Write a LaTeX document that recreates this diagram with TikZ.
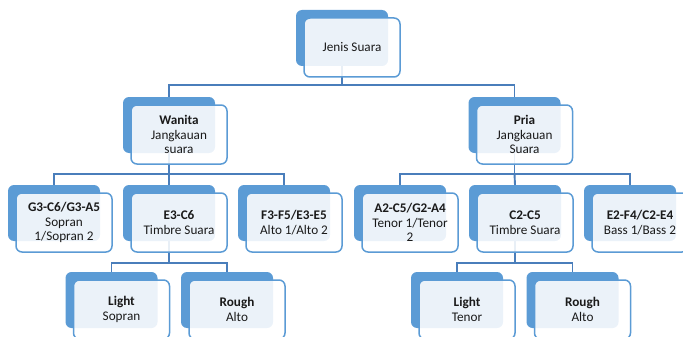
\documentclass[tikz,border=0pt]{standalone}
\usepackage{fontspec}
\setmainfont{Carlito}
\usetikzlibrary{backgrounds}
\definecolor{backblue}{HTML}{5B9BD5}
\definecolor{connblue}{HTML}{4A7EBB}
\definecolor{txt}{HTML}{1A1A1A}
\tikzset{
  backbox/.style={fill=backblue, draw=none, rounded corners=6pt, minimum width=92pt, minimum height=56pt, inner sep=0pt},
  frontbox/.style={fill=white, fill opacity=0.88, text opacity=1, draw=backblue, line width=1.5pt, rounded corners=6pt, minimum width=96pt, minimum height=59pt, inner sep=1pt, align=center, text=txt, font=\fontsize{13.2}{14.5}\selectfont},
  conn/.style={draw=connblue, line width=1.9pt}
}
\newcommand{\unitbox}[4]{%
  \node[backbox] (#1) at (#2,#3) {};
  \node[frontbox] (#1-f) at ([xshift=10pt,yshift=-9.5pt]#1.center) {#4};
}
\begin{document}
\begin{tikzpicture}[x=1pt,y=-1pt]
\useasboundingbox (0,0) rectangle (683,337);
% boxes
\unitbox{top}{342}{38}{Jenis Suara}
\unitbox{wan}{169}{125}{\textbf{Wanita}\\Jangkauan\\suara}
\unitbox{pri}{514.5}{125}{\textbf{Pria}\\Jangkauan\\Suara}
\unitbox{g3}{54}{213}{\textbf{G3-C6/G3-A5}\\Sopran\\1/Sopran 2}
\unitbox{e3}{169}{213}{\textbf{E3-C6}\\Timbre Suara}
\unitbox{f3}{284}{213}{\textbf{F3-F5/E3-E5}\\Alto 1/Alto 2}
\unitbox{a2}{400}{213}{\textbf{A2-C5/G2-A4}\\Tenor 1/Tenor\\2}
\unitbox{c2}{515}{213}{\textbf{C2-C5}\\Timbre Suara}
\unitbox{e2}{630}{213}{\textbf{E2-F4/C2-E4}\\Bass 1/Bass 2}
\unitbox{lightw}{111.5}{300}{\textbf{Light}\\Sopran}
\unitbox{roughw}{227}{300}{\textbf{Rough}\\Alto}
\unitbox{lightp}{457}{300}{\textbf{Light}\\Tenor}
\unitbox{roughp}{572.5}{300}{\textbf{Rough}\\Alto}
% junctions
\coordinate (j0) at (342,85);
\coordinate (j1) at (169,174);
\coordinate (j1r) at (514.5,174);
\coordinate (j2) at (169,263);
\coordinate (j2r) at (515,263);
% connectors (under boxes)
\begin{pgfonlayer}{background}
\draw[conn] (top.south) -- (j0);
\draw[conn] (wan.north) |- (j0) -| (pri.north);
\draw[conn] (wan.south) -- (j1);
\draw[conn] (g3.north) |- (j1) -| (f3.north);
\draw[conn] (e3.north) -- (j1);
\draw[conn] (pri.south) -- (j1r);
\draw[conn] (a2.north) |- (j1r) -| (e2.north);
\draw[conn] (c2.north) -- (j1r);
\draw[conn] (e3.south) -- (j2);
\draw[conn] (lightw.north) |- (j2) -| (roughw.north);
\draw[conn] (c2.south) -- (j2r);
\draw[conn] (lightp.north) |- (j2r) -| (roughp.north);
\end{pgfonlayer}
\end{tikzpicture}
\end{document}
